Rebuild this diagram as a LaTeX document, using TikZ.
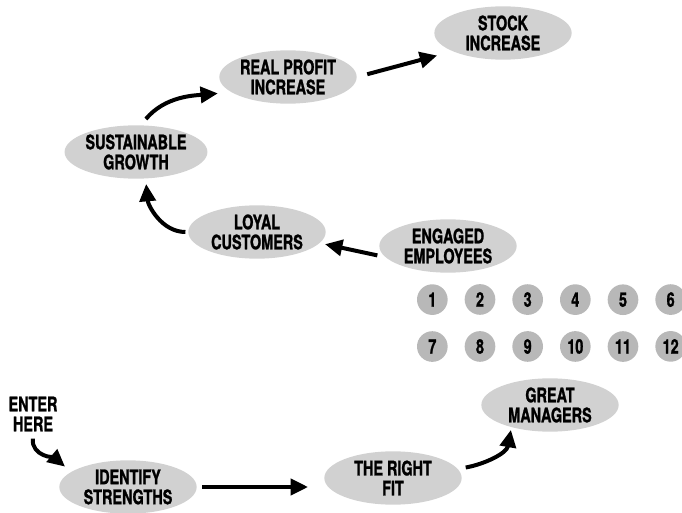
\documentclass[tikz,border=0pt]{standalone}
\usepackage{fontspec}
\setmainfont{TeX Gyre Heros}[FakeStretch=0.72, BoldFeatures={FakeBold=1.2}]
\usepackage{tikz}
\usetikzlibrary{shapes,matrix,arrows.meta}
\definecolor{speck}{gray}{0.82}
\definecolor{speckdark}{gray}{0.72}
\tikzset{
  blob/.style={ellipse, fill=speck, minimum width=103pt, minimum height=40pt,
    inner sep=0pt, align=center, font=\fontsize{15}{15}\selectfont\bfseries},
  numdot/.style={circle, fill=speckdark, minimum size=23pt, inner sep=0pt,
    font=\fontsize{15}{15}\selectfont\bfseries},
  flow/.style={-{Triangle[length=13pt,width=12pt]}, line width=3pt},
}

\begin{document}
\begin{tikzpicture}[x=0.75pt, y=-0.75pt]
    \useasboundingbox (0,0) rectangle (682,513);
    \node[blob] (stock) at (503,33)  {STOCK\\INCREASE};
    \node[blob] (prof)  at (288,77)  {REAL PROFIT\\INCREASE};
    \node[blob] (sus)   at (136,152) {SUSTAINABLE\\GROWTH};
    \node[blob] (loy)   at (257,232) {LOYAL\\CUSTOMERS};
    \node[blob] (eng)   at (448,246) {ENGAGED\\EMPLOYEES};
    \node[blob] (mgr)   at (550,405) {GREAT\\MANAGERS};
    \node[blob] (fit)   at (393,478) {THE RIGHT\\FIT};
    \node[blob] (ident) at (128,487) {IDENTIFY\\STRENGTHS};
    \node[align=center, font=\fontsize{15}{15}\selectfont\bfseries] (enter) at (33,414) {ENTER\\HERE};
    \matrix (nums) [matrix of nodes, nodes={numdot}, column sep=12.75pt, row sep=12pt] at (551.5,323) {
      1 & 2 & 3 & 4  & 5  & 6  \\
      7 & 8 & 9 & 10 & 11 & 12 \\
    };
    \draw[flow, shorten <=2pt, shorten >=6pt] (enter.south) to[out=-95, in=140] (ident.165);
    \draw[flow, shorten <=4pt, shorten >=12pt] (ident.east) -- (ident.east -| fit.west);
    \draw[flow, shorten <=6pt, shorten >=2pt] (fit.8) to[out=10, in=-100] (mgr.210);
    \draw[flow, shorten <=6pt, shorten >=4pt] (eng.190) -- (loy.-10);
    \draw[flow, shorten <=2pt, shorten >=4pt] (loy.west) to[out=180, in=-85] (sus.-70);
    \draw[flow, shorten <=6pt, shorten >=10pt] (sus.80) to[out=50, in=185] (prof.195);
    \draw[flow, shorten <=8pt, shorten >=12pt] (prof.0) -- (stock.200);
\end{tikzpicture}
\end{document}
